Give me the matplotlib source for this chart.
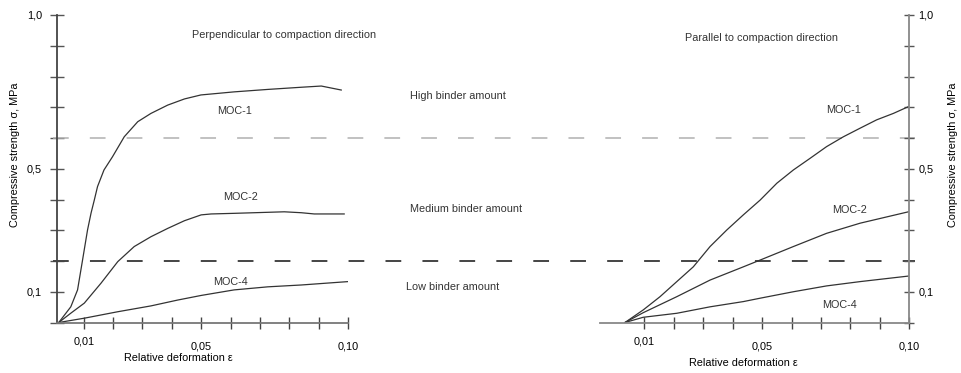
import matplotlib.pyplot as plt

plt.rcParams['font.family'] = ['Liberation Sans', 'DejaVu Sans']
plt.rcParams['font.size'] = 7.8
plt.rcParams['text.color'] = '#333333'

# Perpendicular to compaction direction (left panel)
perp_moc1_eps = [0.0015, 0.0056, 0.0079, 0.0096, 0.0113, 0.0125, 0.0136, 0.0147, 0.0169, 0.0198,
                 0.0238, 0.0284, 0.0329, 0.0386, 0.0443, 0.0499, 0.0612, 0.0727, 0.0840, 0.0909, 0.0977]
perp_moc1_sig = [0.0, 0.051, 0.106, 0.203, 0.301, 0.356, 0.398, 0.442, 0.496, 0.539,
                 0.604, 0.653, 0.680, 0.707, 0.727, 0.740, 0.750, 0.758, 0.765, 0.769, 0.756]

perp_moc2_eps = [0.0015, 0.0057, 0.0102, 0.0159, 0.0216, 0.0272, 0.0329, 0.0386, 0.0443, 0.0500,
                 0.0534, 0.0612, 0.0783, 0.0841, 0.0885, 0.0987]
perp_moc2_sig = [0.0, 0.031, 0.063, 0.128, 0.198, 0.247, 0.279, 0.306, 0.331, 0.350,
                 0.353, 0.355, 0.360, 0.357, 0.353, 0.353]

perp_moc4_eps = [0.0015, 0.0102, 0.0216, 0.0329, 0.0420, 0.0500, 0.0612, 0.0727, 0.0841, 0.1000]
perp_moc4_sig = [0.0, 0.014, 0.035, 0.054, 0.073, 0.088, 0.106, 0.116, 0.122, 0.133]

# Parallel to compaction direction (right panel)
par_moc1_eps = [0.0034, 0.0096, 0.0153, 0.0210, 0.0266, 0.0323, 0.0380, 0.0436, 0.0493, 0.0550,
                0.0606, 0.0663, 0.0719, 0.0776, 0.0833, 0.0889, 0.0946, 0.0997]
par_moc1_sig = [0.0, 0.041, 0.084, 0.133, 0.181, 0.247, 0.301, 0.350, 0.398, 0.453,
                0.496, 0.534, 0.572, 0.604, 0.632, 0.659, 0.680, 0.702]

par_moc2_eps = [0.0034, 0.0096, 0.0210, 0.0323, 0.0436, 0.0493, 0.0606, 0.0719, 0.0833, 0.0997]
par_moc2_sig = [0.0, 0.032, 0.084, 0.138, 0.181, 0.203, 0.247, 0.290, 0.323, 0.360]

par_moc4_eps = [0.0034, 0.0096, 0.0210, 0.0323, 0.0436, 0.0493, 0.0606, 0.0719, 0.0833, 0.0997]
par_moc4_sig = [0.0, 0.017, 0.030, 0.051, 0.068, 0.079, 0.100, 0.119, 0.133, 0.151]

# binder amount boundaries
boundary_high = 0.6
boundary_low = 0.2

y_ticks = [0.0, 0.1, 0.2, 0.3, 0.4, 0.5, 0.6, 0.7, 0.8, 0.9, 1.0]
y_tick_labels = ['', '0,1', '', '', '', '0,5', '', '', '', '', '1,0']
x_major = [0.05, 0.10]
x_major_labels = ['0,05', '0,10']
x_minor = [0.01, 0.02, 0.03, 0.04, 0.06, 0.07, 0.08, 0.09]
x_minor_labels = ['0,01', '', '', '', '', '', '', '']

line_kw = dict(color='#333333', lw=0.9)
ylabel = 'Compressive strength σ, MPa'
xlabel = 'Relative deformation ε'

fig = plt.figure(figsize=(9.61, 3.73), dpi=100)
ax1 = fig.add_axes([57 / 961, 50.5 / 373, 291 / 961, 307.5 / 373])
ax2 = fig.add_axes([600 / 961, 50.5 / 373, 309.3 / 961, 307.5 / 373])

# left panel
ax1.plot(perp_moc1_eps, perp_moc1_sig, **line_kw)
ax1.plot(perp_moc2_eps, perp_moc2_sig, **line_kw)
ax1.plot(perp_moc4_eps, perp_moc4_sig, **line_kw)
ax1.set_xlim(0.0009, 0.1)
ax1.set_ylim(0, 1.0)
for s in ['top', 'right']:
    ax1.spines[s].set_visible(False)
ax1.spines['left'].set_color('#444444')
ax1.spines['bottom'].set_color('#777777')
for s in ['left', 'bottom']:
    ax1.spines[s].set_linewidth(1.3)

ax1.set_yticks(y_ticks, labels=y_tick_labels)
ax1.tick_params(axis='y', direction='inout', length=10, width=1.0, color='#555555', pad=5.8)
ax1.set_xticks(x_major, labels=x_major_labels)
ax1.set_xticks(x_minor, labels=x_minor_labels, minor=True)
ax1.tick_params(axis='x', which='major', direction='inout', length=8.6, width=1.0, color='#444444', pad=9.4)
ax1.tick_params(axis='x', which='minor', direction='inout', length=8.6, width=1.0, color='#444444', pad=5.7)

ax1.set_ylabel(ylabel, va='center')
ax1.yaxis.set_label_coords(-0.145, 0.545)
ax1.set_xlabel(xlabel, va='center')
ax1.xaxis.set_label_coords(0.416, -0.114)

ax1.text(0.0783, 0.935, 'Perpendicular to compaction direction', ha='center', va='center')
ax1.text(0.0612, 0.688, 'MOC-1', ha='center', va='center')
ax1.text(0.0633, 0.408, 'MOC-2', ha='center', va='center')
ax1.text(0.0599, 0.132, 'MOC-4', ha='center', va='center')
ax1.text(0.1212, 0.737, 'High binder amount', ha='left', va='center', clip_on=False)
ax1.text(0.1212, 0.369, 'Medium binder amount', ha='left', va='center', clip_on=False)
ax1.text(0.1199, 0.115, 'Low binder amount', ha='left', va='center', clip_on=False)

# dashed boundaries spanning both panels
ax1.axhline(boundary_high, xmin=-0.014, xmax=2.95, clip_on=False, color='#b0b0b0', lw=1.1,
            linestyle=(0, (10.3, 13.8)))
ax1.axhline(boundary_low, xmin=-0.014, xmax=2.95, clip_on=False, color='#444444', lw=1.4,
            linestyle=(0, (8.1, 10.9)))

# right panel
ax2.plot(par_moc1_eps, par_moc1_sig, **line_kw)
ax2.plot(par_moc2_eps, par_moc2_sig, **line_kw)
ax2.plot(par_moc4_eps, par_moc4_sig, **line_kw)
ax2.set_xlim(-0.0051, 0.1)
ax2.set_ylim(0, 1.0)
for s in ['top', 'left']:
    ax2.spines[s].set_visible(False)
ax2.spines['right'].set_color('#888888')
ax2.spines['bottom'].set_color('#888888')
for s in ['right', 'bottom']:
    ax2.spines[s].set_linewidth(1.3)
ax2.patch.set_alpha(0)

ax2.yaxis.tick_right()
ax2.yaxis.set_label_position('right')
ax2.set_yticks(y_ticks, labels=y_tick_labels)
ax2.tick_params(axis='y', direction='inout', length=7.2, width=1.0, color='#555555', pad=2.9)
ax2.set_xticks(x_major, labels=x_major_labels)
ax2.set_xticks(x_minor, labels=x_minor_labels, minor=True)
ax2.tick_params(axis='x', which='major', direction='inout', length=8.6, width=1.0, color='#444444', pad=9.4)
ax2.tick_params(axis='x', which='minor', direction='inout', length=8.6, width=1.0, color='#444444', pad=5.7)

ax2.set_ylabel(ylabel, rotation=90, va='center')
ax2.yaxis.set_label_coords(1.141, 0.545)
ax2.set_xlabel(xlabel, va='center')
ax2.xaxis.set_label_coords(0.462, -0.132)

ax2.text(0.0497, 0.925, 'Parallel to compaction direction', ha='center', va='center')
ax2.text(0.0775, 0.691, 'MOC-1', ha='center', va='center')
ax2.text(0.0798, 0.366, 'MOC-2', ha='center', va='center')
ax2.text(0.0764, 0.057, 'MOC-4', ha='center', va='center')

fig.savefig('out.png', dpi=100)
